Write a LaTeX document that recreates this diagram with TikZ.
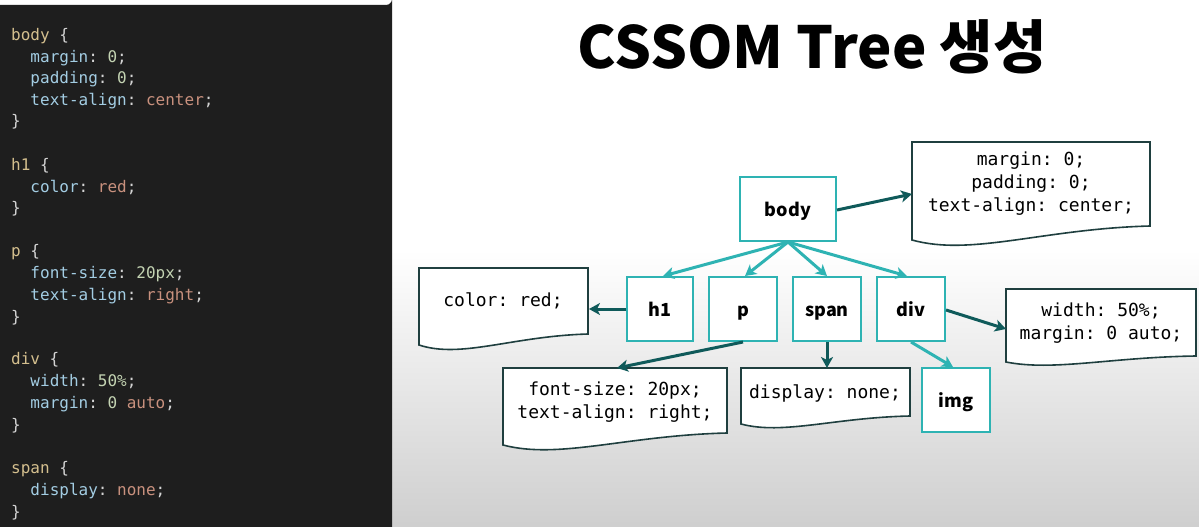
\documentclass[tikz,border=0pt]{standalone}
\usepackage{fontspec}
\setmonofont{DejaVu Sans Mono}
\setsansfont{Noto Sans}
\newfontfamily\titlefont{Noto Sans CJK KR}
\usetikzlibrary{arrows.meta}
\definecolor{panel}{HTML}{1E1E1E}
\definecolor{csel}{HTML}{D4BF8E}
\definecolor{cprop}{HTML}{A3CDE3}
\definecolor{cnum}{HTML}{C3D3B2}
\definecolor{cval}{HTML}{C9917E}
\definecolor{cpun}{HTML}{D4D4D4}
\definecolor{teal}{HTML}{2EB3B3}
\definecolor{dteal}{HTML}{0F5A5A}
\definecolor{docline}{HTML}{1F3F3F}
\newcommand\cS[1]{\textcolor{csel}{#1}}
\newcommand\cP[1]{\textcolor{cprop}{#1}}
\newcommand\cN[1]{\textcolor{cnum}{#1}}
\newcommand\cV[1]{\textcolor{cval}{#1}}
\newcommand\cU[1]{\textcolor{cpun}{#1}}
\tikzset{
  code/.style={anchor=west,inner sep=0pt,font=\ttfamily\fontsize{16}{16}\selectfont,text=cpun},
  treebox/.style={draw=teal,line width=2pt,fill=white,minimum height=64pt,inner sep=0pt,text height=14pt,text depth=0pt,font=\titlefont\bfseries\fontsize{18}{18}\selectfont},
  doctext/.style={align=center,inner sep=0pt,font=\ttfamily\fontsize{18}{23}\selectfont},
  docpath/.style={draw=docline,line width=1.6pt,fill=white},
  tarrow/.style={draw=teal,line width=3pt,-{Stealth[length=11pt,width=12pt,inset=3pt]}},
  darrow/.style={draw=dteal,line width=3pt,-{Stealth[length=11pt,width=12pt,inset=3pt]}},
}
\newcommand\docshape[5]{% L T R bL bR
  \path[docpath] (#1,#2) -- (#3,#2) -- (#3,#5)
    .. controls ({#3-0.45*(#3-#1)},{#5+0.2*(#4-#5)}) and ({#1+0.25*(#3-#1)},{#4+0.9*(#4-#5)+4}) .. (#1,#4) -- cycle;}
\begin{document}
\begin{tikzpicture}[x=1pt,y=-1pt]
\useasboundingbox (0,0) rectangle (1199,527);
\fill[white] (0,0) rectangle (1199,527);
\shade[top color=white,bottom color=black!19] (392,250) rectangle (1199,527);
% code panel
\fill[panel] (0,5) -- (386,5) arc[start angle=90,end angle=0,radius=6] -- (392,527) -- (0,527) -- cycle;
\node[code] (l1) at (11,36) {\cS{body} \{};
\node[code] (l2) at (30.3,58) {\cP{margin}: \cN{0};};
\node[code] (l3) at (30.3,79) {\cP{padding}: \cN{0};};
\node[code] (l4) at (30.3,101) {\cP{text-align}: \cV{center};};
\node[code] (l5) at (11,122) {\}};
\node[code] (l6) at (11,166) {\cS{h1} \{};
\node[code] (l7) at (30.3,187) {\cP{color}: \cV{red};};
\node[code] (l8) at (11,209) {\}};
\node[code] (l9) at (11,252) {\cS{p} \{};
\node[code] (l10) at (30.3,274) {\cP{font-size}: \cN{20px};};
\node[code] (l11) at (30.3,296) {\cP{text-align}: \cV{right};};
\node[code] (l12) at (11,318) {\}};
\node[code] (l13) at (11,360) {\cS{div} \{};
\node[code] (l14) at (30.3,382) {\cP{width}: \cN{50\%};};
\node[code] (l15) at (30.3,404) {\cP{margin}: \cN{0} \cV{auto};};
\node[code] (l16) at (11,426) {\}};
\node[code] (l17) at (11,469) {\cS{span} \{};
\node[code] (l18) at (30.3,491) {\cP{display}: \cV{none};};
\node[code] (l19) at (11,513) {\}};
% title
\node[inner sep=0pt,font=\titlefont\bfseries\fontsize{58}{58}\selectfont] (title) at (812,47) {CSSOM Tree 생성};
% document boxes
\docshape{912}{142}{1150}{240}{226}
\node[doctext] (bodycss) at (1031,184) {margin: 0;\\padding: 0;\\text-align: center;};
\docshape{419}{268}{588}{345}{334}
\node[doctext] (colorcss) at (503,301) {color: red;};
\docshape{503}{368}{727}{445}{433}
\node[doctext] (pcss) at (615,402) {font-size: 20px;\\text-align: right;};
\docshape{741}{368}{910}{424}{416}
\node[doctext] (spancss) at (825,393) {display: none;};
\docshape{1006}{289}{1196}{362}{356}
\node[doctext] (divcss) at (1101,323) {width: 50\%;\\margin: 0 auto;};
\coordinate (bodycssIn) at (912,194);
\coordinate (colorcssIn) at (589,309);
\coordinate (pcssIn) at (617,368);
\coordinate (spancssIn) at (827,368);
\coordinate (divcssIn) at (1006,329);
% tree nodes
\node[treebox,minimum width=96pt] (body) at (788,209) {body};
\node[treebox,minimum width=66pt] (h1) at (660,309) {h1};
\node[treebox,minimum width=68pt] (p) at (743,309) {p};
\node[treebox,minimum width=68pt] (span) at (827,309) {span};
\node[treebox,minimum width=68pt] (div) at (911,309) {div};
\node[treebox,minimum width=68pt] (img) at (956,400) {img};
% tree arrows
\draw[tarrow] (body.south) -- ([xshift=3pt]h1.north);
\draw[tarrow] (body.south) -- ([xshift=2pt]p.north);
\draw[tarrow] (body.south) -- (span.north);
\draw[tarrow] (body.south) -- ([xshift=-4pt]div.north);
\draw[tarrow] (div.south) -- ([xshift=-3pt]img.north);
% css arrows
\draw[darrow] ([yshift=-1pt]body.east) -- (bodycssIn);
\draw[darrow] (h1.west) -- (colorcssIn);
\draw[darrow] (p.south) -- (pcssIn);
\draw[darrow] (span.south) -- (spancssIn);
\draw[darrow] ([yshift=-1pt]div.east) -- (divcssIn);
\end{tikzpicture}
\end{document}
